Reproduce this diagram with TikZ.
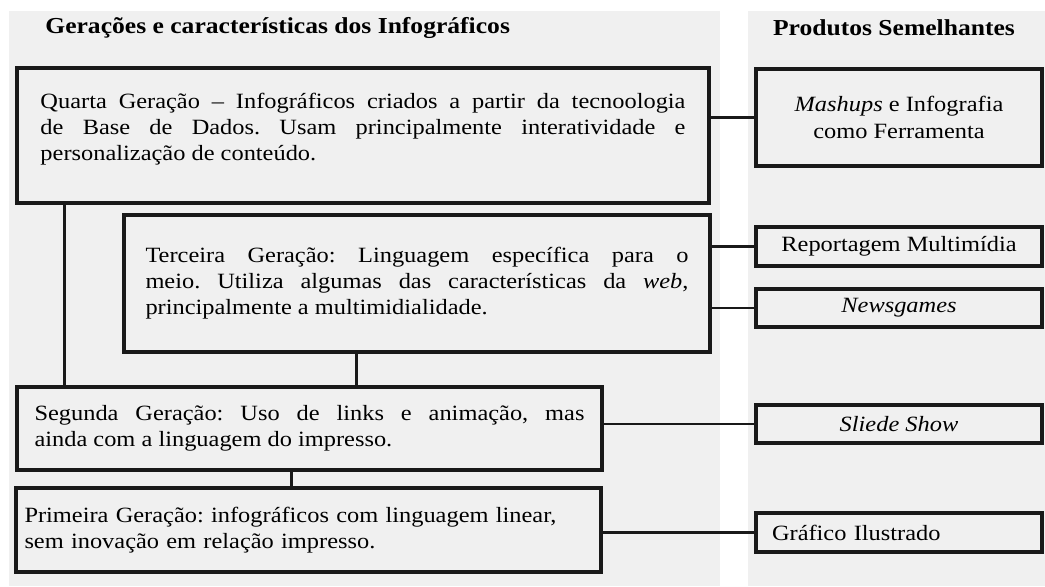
\documentclass[tikz,border=0pt]{standalone}
\usepackage{fontspec}
\setmainfont{Liberation Serif}[FakeStretch=1.12]
\usetikzlibrary{positioning}
\frenchspacing
\tikzset{
  panel/.style={fill=black!6,draw=none},
  title/.style={font=\fontsize{13}{16}\selectfont\bfseries,inner sep=0pt},
  gen/.style={draw=black!90,line width=1.8pt,fill=black!6,align=justify,inner sep=0pt,
    font=\fontsize{12.4}{15}\selectfont},
  prod/.style={draw=black!90,line width=1.8pt,fill=black!6,align=center,inner sep=0pt,
    minimum width=286*0.02cm,font=\fontsize{12.4}{15}\selectfont},
  link/.style={draw=black!90,line width=1.6pt},
}
\begin{document}
\begin{tikzpicture}[x=0.02cm,y=-0.02cm]
  \useasboundingbox (0,0) rectangle (1045,586);
  % panels
  \fill[panel] (9,11) rectangle (720,586);
  \fill[panel] (748,11) rectangle (1045,586);
  \node[title,anchor=west] (titlegen) at (45,28) {Gerações e características dos Infográficos};
  \node[title] (titleprod) at (894,28) {Produtos Semelhantes};
  % generations
  \node[gen,minimum width=692*0.02cm,minimum height=135*0.02cm,text width=645*0.02cm]
    (quarta) at (363,135.5) {Quarta Geração – Infográficos criados a partir da tecnoologia\linebreak
    de Base de Dados. Usam principalmente interatividade e\linebreak
    personalização de conteúdo.\\[-5pt]\mbox{}};
  \node[gen,minimum width=586*0.02cm,minimum height=137*0.02cm,text width=543*0.02cm]
    (terceira) at (417,283.5) {Terceira Geração: Linguagem específica para o\linebreak
    meio. Utiliza algumas das características da \emph{web},\linebreak
    principalmente a multimidialidade.\\[-12pt]\mbox{}};
  \node[gen,minimum width=585*0.02cm,minimum height=83*0.02cm,text width=550*0.02cm]
    (segunda) at (309.5,428.5) {Segunda Geração: Uso de links e animação, mas\linebreak
    ainda com a linguagem do impresso.};
  \node[gen,align=left,minimum width=585*0.02cm,minimum height=84*0.02cm,text width=568*0.02cm]
    (primeira) at (308.5,530) {Primeira Geração: infográficos com linguagem linear,\\
    sem inovação em relação impresso.};
  % products
  \node[prod,minimum height=97*0.02cm] (mashups) at (899,117.5) {\emph{Mashups} e Infografia\\como Ferramenta};
  \node[prod,minimum height=39*0.02cm] (reportagem) at (899,246.5) {Reportagem Multimídia};
  \node[prod,minimum height=38*0.02cm] (newsgames) at (899,308) {\emph{Newsgames}};
  \node[prod,minimum height=38*0.02cm] (slide) at (899,424) {\emph{Sliede Show}};
  \node[prod,align=left,text width=254*0.02cm,minimum height=39*0.02cm] (grafico) at (899,532.5) {Gráfico Ilustrado};
  % links
  \draw[link] (quarta.east |- mashups.west) -- (mashups.west);
  \draw[link] (terceira.east |- reportagem.west) -- (reportagem.west);
  \draw[link] (terceira.east |- newsgames.west) -- (newsgames.west);
  \draw[link] (segunda.east |- slide.west) -- (slide.west);
  \draw[link] (primeira.east |- grafico.west) -- (grafico.west);
  \draw[link] ([xshift=0.98cm]quarta.south west) -- ([xshift=0.98cm]segunda.north west);
  \draw[link] ([xshift=4.68cm]terceira.south west) -- ([xshift=4.68cm]terceira.south west |- segunda.north);
  \draw[link] ([xshift=5.52cm]segunda.south west) -- ([xshift=5.52cm]segunda.south west |- primeira.north);
\end{tikzpicture}
\end{document}
